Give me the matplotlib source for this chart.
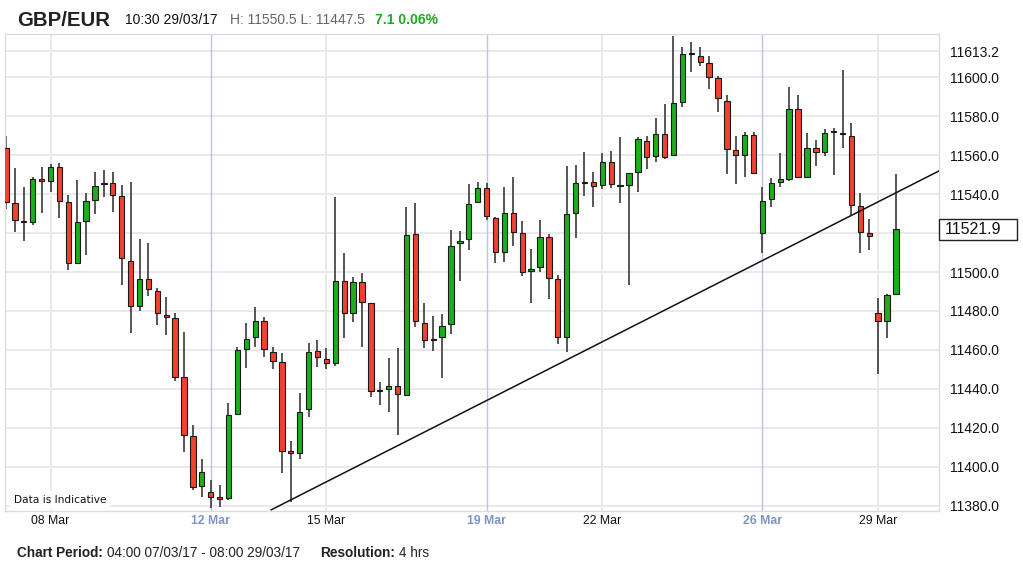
import matplotlib.pyplot as plt
import numpy as np
import pandas as pd
from matplotlib.patches import Rectangle
from matplotlib.transforms import blended_transform_factory

plt.rcParams['font.family'] = ['Liberation Sans', 'DejaVu Sans']

# GBP/EUR 4 hour candles (price x 10000), 07/03/17 04:00 - 29/03/17 08:00
opens = [11563.4, 11535.5, 11526.0, 11525.8, 11547.6, 11546.7, 11554.0, 11535.7, 11504.4, 11526.3,
         11536.9, 11545.3, 11545.5, 11539.0, 11505.8, 11482.6, 11496.2, 11490.2, 11477.8, 11476.2,
         11446.0, 11415.9, 11390.3, 11387.3, 11384.4, 11383.9, 11427.0, 11460.5, 11466.5, 11475.0,
         11459.1, 11453.7, 11408.0, 11407.4, 11429.6, 11459.7, 11455.4, 11453.2, 11495.6, 11478.8,
         11495.0, 11483.9, 11439.3, 11439.8, 11441.5, 11436.9, 11519.5, 11473.7, 11465.7, 11466.5,
         11473.3, 11514.7, 11516.9, 11535.7, 11542.9, 11527.5, 11510.1, 11530.1, 11520.2, 11500.5,
         11502.4, 11518.1, 11496.2, 11466.8, 11530.1, 11546.2, 11546.0, 11544.6, 11556.6, 11544.5,
         11544.6, 11551.1, 11567.2, 11559.7, 11570.8, 11560.0, 11587.4, 11612.0, 11610.8, 11607.4,
         11599.3, 11587.9, 11562.6, 11560.0, 11570.3, 11520.2, 11537.3, 11546.3, 11547.5, 11583.4,
         11548.6, 11563.4, 11561.7, 11572.2, 11571.3, 11569.7, 11533.8, 11520.2, 11478.8, 11475.0,
         11488.7]
highs = [11569.6, 11553.5, 11543.7, 11548.9, 11554.0, 11555.2, 11555.7, 11539.5, 11547.2, 11540.7,
         11551.4, 11552.3, 11551.4, 11544.6, 11546.3, 11516.7, 11515.0, 11491.9, 11487.3, 11479.1,
         11469.4, 11421.5, 11404.1, 11393.3, 11390.8, 11432.6, 11461.7, 11473.7, 11481.9, 11477.1,
         11461.7, 11458.6, 11413.5, 11438.1, 11463.4, 11465.1, 11460.9, 11538.6, 11509.9, 11497.3,
         11499.7, 11484.3, 11443.4, 11455.7, 11460.9, 11533.2, 11535.2, 11483.9, 11477.6, 11478.5,
         11521.5, 11521.0, 11545.1, 11546.3, 11545.5, 11528.0, 11543.4, 11548.5, 11526.2, 11511.8,
         11526.7, 11519.5, 11498.5, 11554.4, 11554.9, 11561.4, 11551.5, 11561.2, 11562.2, 11569.4,
         11550.9, 11569.4, 11569.7, 11579.1, 11586.2, 11621.0, 11615.6, 11617.8, 11615.6, 11610.8,
         11600.7, 11590.8, 11569.9, 11572.0, 11572.0, 11543.8, 11548.0, 11560.9, 11594.7, 11590.8,
         11571.1, 11567.7, 11573.2, 11573.7, 11603.6, 11576.2, 11540.3, 11527.0, 11486.5, 11488.5,
         11550.5]
lows = [11532.2, 11520.7, 11516.0, 11524.1, 11530.4, 11541.2, 11527.5, 11501.0, 11504.0, 11508.7,
        11529.6, 11538.6, 11530.9, 11493.3, 11468.5, 11480.0, 11487.7, 11472.8, 11467.7, 11444.3,
        11407.9, 11388.2, 11384.8, 11379.0, 11379.7, 11383.1, 11426.5, 11450.6, 11461.7, 11456.6,
        11450.1, 11397.1, 11382.2, 11404.0, 11425.5, 11451.4, 11450.1, 11451.8, 11466.0, 11474.5,
        11461.7, 11435.7, 11431.8, 11428.4, 11416.4, 11436.5, 11471.6, 11461.2, 11459.7, 11445.5,
        11468.2, 11495.4, 11511.3, 11535.2, 11526.7, 11504.8, 11505.3, 11513.3, 11497.9, 11483.9,
        11500.2, 11486.2, 11463.1, 11459.1, 11517.3, 11539.1, 11533.5, 11542.4, 11542.9, 11535.2,
        11493.3, 11541.2, 11552.8, 11556.2, 11557.9, 11559.6, 11584.4, 11602.7, 11605.6, 11593.7,
        11582.2, 11550.3, 11545.1, 11548.5, 11550.3, 11509.9, 11533.2, 11543.8, 11546.8, 11548.2,
        11548.2, 11554.4, 11559.5, 11549.7, 11563.4, 11529.2, 11509.6, 11511.3, 11447.5, 11466.0,
        11488.5]
closes = [11536.1, 11526.6, 11525.6, 11547.7, 11546.9, 11554.0, 11536.6, 11504.4, 11525.8, 11536.4,
          11544.3, 11545.7, 11539.5, 11507.0, 11482.6, 11496.2, 11491.1, 11478.8, 11476.8, 11446.3,
          11416.4, 11389.9, 11397.3, 11384.8, 11383.8, 11426.7, 11460.0, 11465.6, 11475.0, 11460.3,
          11454.5, 11408.4, 11407.0, 11428.4, 11459.1, 11456.2, 11453.2, 11495.6, 11478.8, 11494.7,
          11484.4, 11439.1, 11438.9, 11441.5, 11437.4, 11519.0, 11474.9, 11465.1, 11465.3, 11472.5,
          11513.5, 11515.9, 11534.9, 11542.9, 11528.7, 11510.1, 11530.1, 11520.7, 11500.2, 11501.5,
          11518.1, 11497.1, 11466.8, 11529.6, 11545.5, 11545.8, 11544.3, 11556.6, 11545.0, 11544.1,
          11550.6, 11568.2, 11559.1, 11570.8, 11559.1, 11586.8, 11611.8, 11611.6, 11607.9, 11600.2,
          11589.1, 11562.9, 11560.0, 11570.3, 11551.0, 11536.6, 11545.5, 11547.5, 11583.4, 11548.6,
          11563.4, 11561.7, 11571.1, 11571.8, 11570.9, 11534.4, 11520.7, 11518.5, 11474.9, 11488.2,
          11521.9]

# date labels on the x axis (sundays shown in blue)
tick_dates = ['2017-03-08', '2017-03-12', '2017-03-15', '2017-03-19',
              '2017-03-22', '2017-03-26', '2017-03-29']

# hand drawn support line (candle index, price)
trend_x = [29.8, 104.9]
trend_y = [11378.0, 11552.0]

y_ticks = [11380, 11400, 11420, 11440, 11460, 11480, 11500, 11520,
           11540, 11560, 11580, 11600, 11613.2]

# candle times: market shut from saturday until sunday 20:00
times = pd.date_range('2017-03-07 04:00', '2017-03-29 08:00', freq='4h')
closed = (times.dayofweek == 5) | ((times.dayofweek == 6) & (times.hour < 20))
times = times[~closed]

o = np.array(opens)
h = np.array(highs)
l = np.array(lows)
c = np.array(closes)
x = np.arange(len(c))

fig = plt.figure(figsize=(10.23, 5.70), dpi=100)
ax = fig.add_axes([4.5 / 1023, 59 / 570, 934.8 / 1023, 477 / 570])

# grid
for yv in y_ticks:
    ax.axhline(yv, color='#e9e9e9', lw=1.4, zorder=0)

tick_pos = []
tick_lab = []
tick_sun = []
for d in tick_dates:
    dd = pd.Timestamp(d)
    idx = int(np.argmax(times.normalize() == dd))
    tick_pos.append(idx)
    tick_lab.append(dd.strftime('%d %b'))
    tick_sun.append(dd.dayofweek == 6)
    if dd.dayofweek == 6:
        ax.axvline(idx, color='#b7c4e2', lw=1.0, zorder=0)
    else:
        ax.axvline(idx, color='#e9e9e9', lw=1.4, zorder=0)

# candles
up = c >= o
colors = np.where(up, '#1bb01b', '#f3412f')
ax.vlines(x, l, h, color='#3a3a3a', lw=1.2, zorder=2)
body = np.maximum(np.abs(c - o), 0.5)
ax.bar(x, body, bottom=np.minimum(o, c), width=0.6, color=colors,
       edgecolor='#1a1a1a', linewidth=0.8, zorder=3)

ax.plot(trend_x, trend_y, color='#111111', lw=1.1, zorder=4)

ax.set_xlim(-0.17, 104.87)
ax.set_ylim(11377.4, 11622.1)

for s in ax.spines.values():
    s.set_color('#dcdcdc')
    s.set_linewidth(1.0)

# axes labels
ax.yaxis.tick_right()
ax.set_yticks(y_ticks)
ax.set_yticklabels(['' if v == 11520 else '{:.1f}'.format(v) for v in y_ticks])
ax.tick_params(axis='y', length=0, pad=8, labelsize=10, colors='#111111')

ax.set_xticks(tick_pos)
ax.set_xticklabels(tick_lab)
ax.tick_params(axis='x', length=0, pad=3, labelsize=8.8)
for lab, sun in zip(ax.get_xticklabels(), tick_sun):
    if sun:
        lab.set_color('#7d94c9')
        lab.set_fontweight('bold')
    else:
        lab.set_color('#111111')

# last price box
tr = blended_transform_factory(ax.transAxes, ax.transData)
ax.add_patch(Rectangle((1.0, c[-1] - 5.4), 78 / 934.8, 10.8, transform=tr,
                       fc='white', ec='#222222', lw=1.0, clip_on=False, zorder=5))
ax.text(1.0 + 5 / 934.8, c[-1], '{:.1f}'.format(c[-1]), transform=tr,
        ha='left', va='center', fontsize=11.5, color='#111111', zorder=6)

ax.text(9 / 934.8, 11380.5, 'Data is Indicative', transform=tr, ha='left',
        va='bottom', fontsize=7.6, family='DejaVu Sans', color='#111111', zorder=6,
        bbox=dict(boxstyle='square,pad=0.35', fc='white', ec='none'))

# header
fy = lambda py: 1 - py / 570
fig.text(17 / 1023, fy(26), 'GBP/EUR', fontsize=14.7, fontweight='bold',
         color='#222222', va='baseline')
fig.text(125 / 1023, fy(23.5), '10:30 29/03/17', fontsize=10, color='#111111', va='baseline')
fig.text(230 / 1023, fy(23.5), 'H: {:.1f} L: {:.1f}'.format(max(h[98:]), min(l[98:])),
         fontsize=10, color='#666666', va='baseline')
fig.text(375 / 1023, fy(23.5), '7.1 0.06%', fontsize=10, fontweight='bold',
         color='#1eaa1e', va='baseline')

# footer
fig.text(17 / 1023, fy(557), 'Chart Period:', fontsize=9.8, fontweight='bold',
         color='#222222', va='baseline')
fig.text(107 / 1023, fy(557), '04:00 07/03/17 - 08:00 29/03/17', fontsize=9.8,
         color='#222222', va='baseline')
fig.text(320 / 1023, fy(557), 'Resolution:', fontsize=9.8, fontweight='bold',
         color='#222222', va='baseline')
fig.text(399 / 1023, fy(557), '4 hrs', fontsize=9.8, color='#222222', va='baseline')

fig.savefig('out.png', dpi=100)
